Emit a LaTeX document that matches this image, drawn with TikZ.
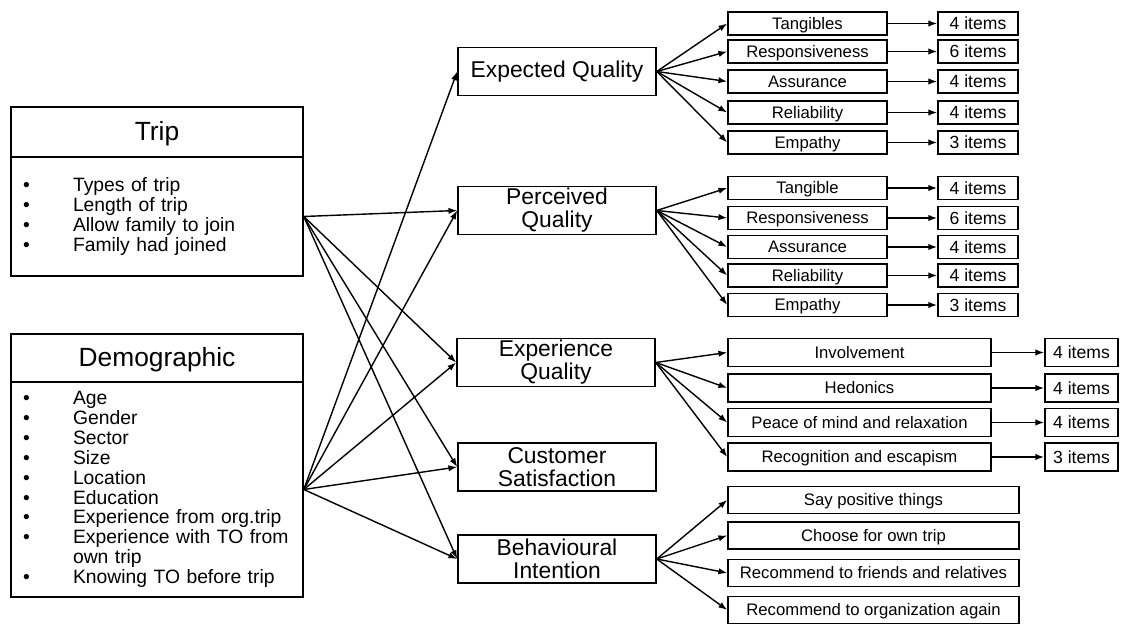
\documentclass[tikz,border=0pt]{standalone}
\usepackage{fontspec}
\setmainfont{Liberation Sans}
\usepackage{tikz}
\usetikzlibrary{arrows.meta}

\newcommand{\bul}{\makebox[1.0cm][l]{\textbullet}}

\begin{document}
\begin{tikzpicture}[
    x=0.02cm, y=-0.02cm,
    head/.style={draw, line width=0.9pt, minimum width=5.84cm, minimum height=1cm, inner sep=0pt, text height=12pt, text depth=2pt, font=\fontsize{15}{18}\selectfont},
    list/.style={draw, line width=0.9pt, text width=5.36cm, inner xsep=0.24cm, inner ysep=0pt, align=left, font=\fontsize{11}{11.3}\selectfont},
    mainbox/.style={draw, line width=0.9pt, minimum width=3.96cm, minimum height=0.96cm, inner sep=0pt, align=center, font=\fontsize{13}{13}\selectfont},
    dim/.style={draw, line width=0.9pt, minimum width=3.18cm, minimum height=0.46cm, inner sep=0pt, text height=8.6pt, text depth=1.8pt, font=\fontsize{9.5}{11}\selectfont},
    item/.style={draw, line width=0.9pt, minimum width=1.6cm, minimum height=0.46cm, inner sep=0pt, text height=8.8pt, text depth=1.8pt, font=\fontsize{10}{12}\selectfont},
    exdim/.style={dim, minimum width=5.26cm, minimum height=0.56cm},
    exitem/.style={item, minimum width=1.46cm, minimum height=0.56cm},
    bidim/.style={dim, minimum width=5.82cm, minimum height=0.54cm},
    arr/.style={-{Latex[length=5pt,width=3.6pt]}, line width=0.8pt}
]
\useasboundingbox (0,0) rectangle (1123,624);

% antecedents
\node[head] (triphead) at (157,132) {Trip};
\node[list, minimum height=2.38cm] (trip) at (157,216.5)
    {\bul Types of trip\\ \bul Length of trip\\ \bul Allow family to join\\ \bul Family had joined};
\node[head, minimum height=0.96cm] (demohead) at (157,358) {Demographic};
\node[list, minimum height=4.3cm] (demo) at (157,489.5)
    {\bul Age\\ \bul Gender\\ \bul Sector\\ \bul Size\\ \bul Location\\ \bul Education\\
     \bul Experience from org.trip\\ \bul Experience with TO from\\ \hspace*{1.0cm}own trip\\
     \bul Knowing TO before trip};

% constructs
\node[mainbox] (eq) at (557,71.5) {Expected Quality};
\node[mainbox] (pq) at (557,210.5) {Perceived\\Quality};
\node[mainbox] (xq) at (556,362.5) {Experience\\Quality};
\node[mainbox] (cs) at (557,467) {Customer\\Satisfaction};
\node[mainbox] (bi) at (557,559) {Behavioural\\Intention};

\draw[arr] (trip.east) -- (pq.west);
\draw[arr] (trip.east) -- (xq.west);
\draw[arr] (trip.east) -- (cs.west);
\draw[arr] (trip.east) -- (bi.west);
\draw[arr] (demo.east) -- (eq.west);
\draw[arr] (demo.east) -- (pq.west);
\draw[arr] (demo.east) -- (xq.west);
\draw[arr] (demo.east) -- (cs.west);
\draw[arr] (demo.east) -- (bi.west);

% expected quality dimensions
\node[dim] (eq1) at (807.5,23.5) {Tangibles};
\node[dim] (eq2) at (807.5,51.5) {Responsiveness};
\node[dim] (eq3) at (807.5,81.5) {Assurance};
\node[dim] (eq4) at (807.5,112.5) {Reliability};
\node[dim] (eq5) at (807.5,142.5) {Empathy};
\node[item] (eqi1) at (978,23.5) {4 items};
\node[item] (eqi2) at (978,51.5) {6 items};
\node[item] (eqi3) at (978,81.5) {4 items};
\node[item] (eqi4) at (978,112.5) {4 items};
\node[item] (eqi5) at (978,142.5) {3 items};

\draw[arr] (eq.east) -- (eq1.west);
\draw[arr] (eq.east) -- (eq2.west);
\draw[arr] (eq.east) -- (eq3.west);
\draw[arr] (eq.east) -- (eq4.west);
\draw[arr] (eq.east) -- (eq5.west);
\draw[arr] (eq1) -- (eqi1);
\draw[arr] (eq2) -- (eqi2);
\draw[arr] (eq3) -- (eqi3);
\draw[arr] (eq4) -- (eqi4);
\draw[arr] (eq5) -- (eqi5);

% perceived quality dimensions
\node[dim] (pq1) at (807.5,188) {Tangible};
\node[dim] (pq2) at (807.5,218) {Responsiveness};
\node[dim] (pq3) at (807.5,247) {Assurance};
\node[dim] (pq4) at (807.5,275.5) {Reliability};
\node[dim] (pq5) at (807.5,305) {Empathy};
\node[item] (pqi1) at (978,188) {4 items};
\node[item] (pqi2) at (978,218) {6 items};
\node[item] (pqi3) at (978,247) {4 items};
\node[item] (pqi4) at (978,275.5) {4 items};
\node[item] (pqi5) at (978,305) {3 items};

\draw[arr] (pq.east) -- (pq1.west);
\draw[arr] (pq.east) -- (pq2.west);
\draw[arr] (pq.east) -- (pq3.west);
\draw[arr] (pq.east) -- (pq4.west);
\draw[arr] (pq.east) -- (pq5.west);
\draw[arr] (pq1) -- (pqi1);
\draw[arr] (pq2) -- (pqi2);
\draw[arr] (pq3) -- (pqi3);
\draw[arr] (pq4) -- (pqi4);
\draw[arr] (pq5) -- (pqi5);

% experience quality dimensions
\node[exdim] (xq1) at (859.5,352.5) {Involvement};
\node[exdim] (xq2) at (859.5,388) {Hedonics};
\node[exdim] (xq3) at (859.5,422.5) {Peace of mind and relaxation};
\node[exdim] (xq4) at (859.5,457) {Recognition and escapism};
\node[exitem] (xqi1) at (1081.5,352.5) {4 items};
\node[exitem] (xqi2) at (1081.5,388) {4 items};
\node[exitem] (xqi3) at (1081.5,422.5) {4 items};
\node[exitem] (xqi4) at (1081.5,457) {3 items};

\draw[arr] (xq.east) -- (xq1.west);
\draw[arr] (xq.east) -- (xq2.west);
\draw[arr] (xq.east) -- (xq3.west);
\draw[arr] (xq.east) -- (xq4.west);
\draw[arr] (xq1) -- (xqi1);
\draw[arr] (xq2) -- (xqi2);
\draw[arr] (xq3) -- (xqi3);
\draw[arr] (xq4) -- (xqi4);

% behavioural intention
\node[bidim] (bi1) at (873.5,500) {Say positive things};
\node[bidim] (bi2) at (873.5,535.5) {Choose for own trip};
\node[bidim] (bi3) at (873.5,573) {Recommend to friends and relatives};
\node[bidim] (bi4) at (873.5,610) {Recommend to organization again};

\draw[arr] (bi.east) -- (bi1.west);
\draw[arr] (bi.east) -- (bi2.west);
\draw[arr] (bi.east) -- (bi3.west);
\draw[arr] (bi.east) -- (bi4.west);

\end{tikzpicture}
\end{document}
